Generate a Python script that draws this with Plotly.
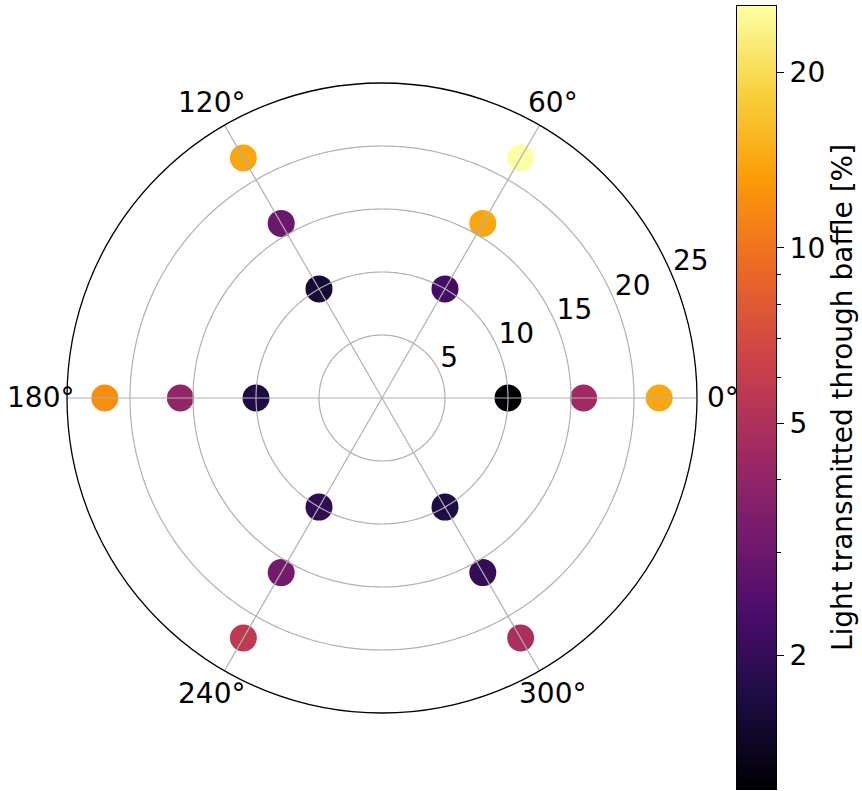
import numpy as np
import plotly.graph_objects as go

# Baffle transmission measurements: three radii at six angular positions
angles_deg = [0, 0, 0, 60, 60, 60, 120, 120, 120, 180, 180, 180, 240, 240, 240, 300, 300, 300]
radii = [10, 16, 22, 10, 16, 22, 10, 16, 22, 10, 16, 22, 10, 16, 22, 10, 16, 22]
transmission_pct = [1.18, 4.5, 14.0,
                    2.26, 14.0, 26.0,
                    1.56, 3.0, 14.0,
                    1.71, 4.05, 12.0,
                    1.94, 3.2, 5.7,
                    1.72, 2.0, 4.9]

radial_ticks = [5, 10, 15, 20, 25]
angular_ticks = [0, 60, 120, 180, 240, 300]
cbar_major = [2, 5, 10, 20]
cbar_minor = [3, 4, 6, 7, 8, 9]

W, H = 862, 791
FONT = "DejaVu Sans"
FS = 28
GRID = "#b0b0b0"
R_MAX = 25
RLABEL_ANGLE = 22.5          # direction along which radius labels sit

# Polar area in pixels (square), used for the domain and the angle labels
PX_LEFT, PX_RIGHT, PX_TOP, PX_BOTTOM = 67, 697, 83, 713
CX, CY = (PX_LEFT + PX_RIGHT) / 2, (PX_TOP + PX_BOTTOM) / 2
R_PX = (PX_RIGHT - PX_LEFT) / 2
THETA_LABEL_FRAC = 1.083     # angle labels centred this far out, relative to the rim

vmin, vmax = min(transmission_pct), max(transmission_pct)
lo, hi = np.log10(vmin), np.log10(vmax)
log_vals = np.log10(transmission_pct)

fig = go.Figure()

fig.add_trace(go.Scatterpolar(
    r=radii, theta=angles_deg, mode="markers",
    marker=dict(size=27, color=log_vals, colorscale="Inferno",
                cmin=lo, cmax=hi, showscale=False, line=dict(width=0)),
    showlegend=False, hoverinfo="r+theta",
))

# Grid drawn on top of the markers: spokes and inner rings
for a in angular_ticks:
    fig.add_trace(go.Scatterpolar(
        r=[0, R_MAX], theta=[a, a], mode="lines",
        line=dict(color=GRID, width=1.2), showlegend=False, hoverinfo="skip",
    ))
ring_theta = np.linspace(0, 360, 361)
for rv in radial_ticks[:-1]:
    fig.add_trace(go.Scatterpolar(
        r=np.full_like(ring_theta, rv), theta=ring_theta, mode="lines",
        line=dict(color=GRID, width=1.2), showlegend=False, hoverinfo="skip",
    ))

# Radius labels, anchored bottom-left at each ring along one direction
fig.add_trace(go.Scatterpolar(
    r=radial_ticks, theta=[RLABEL_ANGLE] * len(radial_ticks), mode="text",
    text=[str(v) for v in radial_ticks], textposition="top right",
    textfont=dict(family=FONT, size=FS, color="black"),
    cliponaxis=False, showlegend=False, hoverinfo="skip",
))

# Colour bar drawn as a one-column heatmap on a log10-valued axis
bar_y = np.linspace(lo, hi, 400)
fig.add_trace(go.Heatmap(
    x=[0], y=bar_y, z=bar_y.reshape(-1, 1), colorscale="Inferno",
    zmin=lo, zmax=hi, showscale=False, xaxis="x", yaxis="y", hoverinfo="skip",
))

# Angle labels, centred just outside the outer circle
angle_annotations = []
for a in angular_ticks:
    t = np.deg2rad(a)
    px = CX + THETA_LABEL_FRAC * R_PX * np.cos(t)
    py = CY - THETA_LABEL_FRAC * R_PX * np.sin(t)
    angle_annotations.append(dict(
        x=px / W, y=1 - py / H, xref="paper", yref="paper",
        text=f"{a}°", showarrow=False, xanchor="center", yanchor="middle",
        font=dict(family=FONT, size=FS, color="black"),
    ))

fig.update_layout(
    width=W, height=H,
    margin=dict(l=0, r=0, t=0, b=0),
    paper_bgcolor="white", plot_bgcolor="white",
    font=dict(family=FONT, size=FS, color="black"),
    annotations=angle_annotations,
    polar=dict(
        domain=dict(x=[PX_LEFT / W, PX_RIGHT / W], y=[1 - PX_BOTTOM / H, 1 - PX_TOP / H]),
        bgcolor="white",
        radialaxis=dict(
            range=[0, R_MAX], showline=False, ticks="", showticklabels=False,
            showgrid=False,
        ),
        angularaxis=dict(
            direction="counterclockwise", rotation=0,
            tickvals=angular_ticks, showticklabels=False,
            ticks="", showline=True, linecolor="black", linewidth=1.3,
            showgrid=False, layer="above traces",
        ),
    ),
    xaxis=dict(
        domain=[737 / W, 776 / W], showticklabels=False, ticks="",
        showgrid=False, zeroline=False, showline=True, mirror=True,
        linecolor="black", linewidth=1, range=[-0.5, 0.5], fixedrange=True,
    ),
    yaxis=dict(
        domain=[(H - 789) / H, (H - 6) / H], side="right", range=[lo, hi],
        tickvals=np.log10(cbar_major).tolist(), ticktext=[str(v) for v in cbar_major],
        ticks="outside", ticklen=7, tickwidth=1, tickcolor="black",
        minor=dict(tickvals=np.log10(cbar_minor).tolist(), ticks="outside",
                   ticklen=4, tickwidth=1, tickcolor="black", showgrid=False),
        showgrid=False, zeroline=False, showline=True, mirror=True,
        linecolor="black", linewidth=1,
        tickfont=dict(family=FONT, size=FS, color="black"),
        title=dict(text="Light transmitted through baffle [%]",
                   font=dict(family=FONT, size=FS, color="black"), standoff=8),
    ),
)

fig.write_html("out.html")
